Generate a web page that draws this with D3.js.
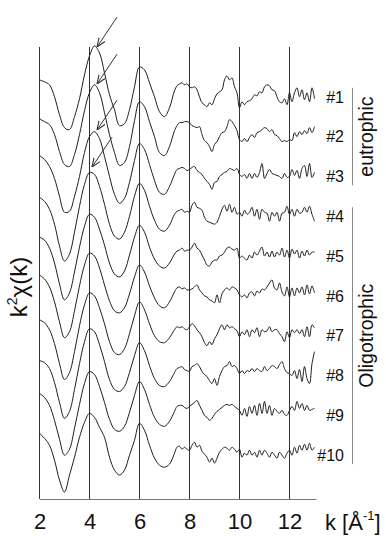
<!DOCTYPE html>
<meta charset="utf-8">
<style>
    body {
        margin: 0;
        background-color: #ffffff;
    }

    text {
        font-family: "Liberation Sans", Arial, sans-serif;
        fill: #111;
    }

    .spectra path {
        fill: none;
        stroke: #1e1e1e;
        stroke-width: 1px;
    }

    .grid line {
        stroke: #333;
        stroke-width: 1px;
    }

    .xaxis path {
        stroke: #777;
    }

    .xaxis text {
        font-size: 22px;
        fill: #111;
    }

    .samples text {
        font-size: 16px;
    }

    .groups line {
        stroke: #888;
        stroke-width: 1px;
    }

    .groups text {
        font-size: 19.5px;
    }

    .arrows line {
        stroke: #333;
        stroke-width: 1px;
    }
</style>
<svg width="386" height="536"></svg>

<script src="https://cdn.jsdelivr.net/npm/d3@7"></script>
<script>
    // sampling grid of the spectra: coarse below 7.5, fine above
    let kLow = d3.range(2, 7.45, 0.2);
    let kHigh = d3.range(7.5, 13.05, 0.1);
    let kGrid = kLow.concat(kHigh);

    // k^2 chi(k), each sample relative to its own baseline
    let s1 = [0.85, 0.75, 0.6, 0.0, -0.9, -1.55, -1.65, -1.0, -0.1, 1.1, 2.05, 2.55, 2.2, 1.2, 0.1, -0.65, -1.45, -1.35, -0.65, 0.5, 1.5, 1.35, 0.7, 0.0, -0.75, -1.0, -0.55, 0.3,
        0.55, 0.65, 0.7, 0.6, 0.65, 0.5, 0.45, 0.5, 0.35, 0.0, -0.3, -0.4, -0.5, -0.3, -0.4, -0.1, 0.15, 0.25, 0.35, 0.85,
        1.05, 0.85, 0.95, 0.5, 0.2, -0.55, -0.25, -0.4, -0.25, -0.2, -0.1, 0.1, 0.05, 0.25, 0.2, 0.5, 0.6, 0.55, 0.35, 0.3,
        0.0, -0.25, -0.3, -0.1, -0.4, 0.2, -0.25, 0.2, 0.45, 0.0, 0.35, -0.15, 0.2, -0.25, 0.45, -0.1];
    let s2 = [0.9, 0.75, 0.6, 0.1, -0.75, -1.4, -1.5, -0.9, 0.1, 1.3, 2.2, 2.6, 2.2, 1.2, 0.1, -0.8, -1.45, -1.3, -0.5, 0.8, 1.75, 1.5, 0.75, 0.0, -0.8, -0.95, -0.5, 0.3,
        0.55, 0.7, 0.7, 0.75, 0.75, 0.7, 0.55, 0.5, 0.45, 0.5, 0.1, -0.2, -0.3, -0.5, -0.75, -0.4, -0.25, 0.0, 0.2, 0.25,
        0.5, 0.85, 0.75, 0.55, 0.3, -0.15, -0.25, -0.1, -0.25, -0.05, 0.1, -0.05, 0.2, 0.25, 0.35, 0.45, 0.4, 0.25, 0.35, 0.1,
        0.05, -0.1, -0.25, -0.2, -0.25, -0.15, -0.2, 0.2, 0.0, 0.25, 0.1, 0.3, 0.15, 0.45, 0.2, 0.5];
    let s3 = [1.05, 0.85, 0.5, -0.1, -1.0, -1.8, -1.75, -1.0, 0.0, 1.2, 2.0, 2.25, 1.9, 1.0, 0.0, -0.9, -1.35, -1.1, -0.3, 0.8, 1.65, 1.35, 0.6, -0.2, -0.8, -0.9, -0.5, 0.1,
        0.35, 0.4, 0.45, 0.4, 0.3, 0.35, 0.45, 0.5, 0.3, 0.2, 0.1, -0.1, -0.25, -0.4, -0.65, -0.3, -0.25, 0.0, 0.1, 0.2,
        0.25, 0.4, 0.35, 0.3, 0.4, 0.1, 0.0, 0.1, -0.1, 0.15, -0.1, 0.15, -0.05, 0.2, 0.65, -0.1, 0.15, 0.35, 0.15, 0.1,
        0.05, 0.0, -0.1, 0.15, -0.05, 0.0, 0.35, 0.05, 0.3, -0.1, 0.4, 0.55, 0.0, 0.65, -0.05, 0.2];
    let s4 = [0.95, 0.75, 0.35, -0.4, -1.5, -2.25, -1.9, -0.8, 0.5, 1.6, 2.2, 2.1, 1.5, 0.6, -0.4, -1.0, -1.15, -0.8, 0.0, 1.0, 1.65, 1.3, 0.5, -0.2, -0.65, -0.75, -0.45, 0.1,
        0.25, 0.3, 0.35, 0.2, 0.25, 0.2, 0.55, 0.7, 0.45, 0.4, 0.3, -0.05, -0.25, -0.3, -0.35, -0.4, -0.3, 0.0, 0.35, 0.55,
        0.25, 0.6, 0.2, 0.45, 0.1, 0.2, 0.0, 0.3, 0.1, 0.2, 0.45, 0.0, 0.35, -0.15, 0.35, 0.2, 0.15, -0.25, 0.2, 0.0,
        0.2, -0.25, 0.15, 0.2, 0.5, 0.1, 0.35, 0.0, 0.35, 0.15, 0.2, 0.45, 0.2, 0.5, 0.1, -0.25];
    let s5 = [0.95, 0.8, 0.4, -0.35, -1.4, -2.2, -1.85, -0.8, 0.45, 1.5, 2.1, 1.95, 1.35, 0.55, -0.35, -0.9, -1.05, -0.75, 0.05, 0.95, 1.55, 1.2, 0.45, -0.15, -0.5, -0.6, -0.35, 0.1,
        0.25, 0.3, 0.4, 0.25, 0.3, 0.3, 0.45, 0.65, 0.4, 0.3, 0.05, -0.2, -0.45, -0.5, -0.3, -0.2, -0.2, 0.0, 0.05, 0.2,
        0.4, 0.45, 0.35, 0.3, 0.4, -0.1, 0.0, -0.1, -0.2, 0.05, -0.1, 0.2, 0.05, 0.25, 0.45, 0.0, 0.2, -0.05, 0.25, -0.05,
        0.2, 0.05, 0.4, -0.05, 0.3, -0.1, 0.35, 0.1, 0.3, -0.1, 0.25, 0.0, 0.3, 0.05, 0.2, 0.2];
    let s6 = [1.05, 0.85, 0.45, -0.3, -1.3, -2.1, -1.8, -0.75, 0.5, 1.55, 2.15, 2.0, 1.4, 0.55, -0.25, -0.75, -0.85, -0.6, 0.1, 0.95, 1.55, 1.2, 0.5, -0.1, -0.5, -0.6, -0.3, 0.2,
        0.4, 0.45, 0.35, 0.4, 0.3, 0.3, 0.35, 0.45, 0.55, 0.3, 0.15, 0.0, -0.05, -0.2, -0.25, -0.35, 0.05, -0.35, 0.1, 0.3,
        0.4, 0.3, 0.45, 0.4, 0.3, 0.05, -0.05, 0.05, -0.1, 0.15, 0.2, 0.0, 0.25, 0.15, 0.35, 0.3, 0.45, 0.65, 0.8, 0.4,
        0.3, 0.65, 0.2, 0.0, 0.45, -0.05, 0.4, 0.0, 0.4, 0.15, 0.45, 0.05, 0.55, 0.1, 0.5, 0.15];
    let s7 = [0.8, 0.65, 0.3, -0.4, -1.4, -2.2, -1.85, -0.8, 0.5, 1.55, 2.15, 2.0, 1.4, 0.6, -0.3, -0.85, -0.95, -0.65, 0.1, 1.0, 1.7, 1.3, 0.6, 0.0, -0.3, -0.35, -0.1, 0.3,
        0.45, 0.4, 0.45, 0.35, 0.3, 0.45, 0.6, 0.5, 0.3, 0.15, -0.05, -0.35, -0.5, -0.3, -0.45, -0.15, 0.05, 0.35, 0.55, 0.3,
        0.55, 0.4, 0.45, 0.35, 0.25, -0.05, 0.2, 0.05, 0.3, -0.05, 0.3, 0.15, 0.4, -0.05, 0.3, 0.2, 0.25, 0.45, 0.2, 0.3,
        0.3, 0.1, -0.05, -0.3, 0.2, -0.1, 0.3, 0.15, 0.3, 0.1, 0.3, -0.05, 0.45, -0.05, 0.55, 0.4];
    let s8 = [0.75, 0.65, 0.35, -0.35, -1.35, -2.15, -1.8, -0.7, 0.6, 1.7, 2.35, 2.2, 1.55, 0.7, -0.2, -0.7, -0.8, -0.55, 0.15, 1.0, 1.65, 1.25, 0.5, -0.15, -0.5, -0.55, -0.3, 0.15,
        0.35, 0.4, 0.45, 0.3, 0.25, 0.2, 0.45, 0.5, 0.6, 0.45, 0.2, 0.05, -0.05, -0.25, -0.4, -0.15, -0.5, -0.05, 0.25, 0.45,
        0.5, 0.7, 0.45, 0.5, 0.35, 0.1, 0.25, 0.1, 0.25, 0.2, 0.35, 0.2, 0.35, 0.25, 0.2, 0.45, 0.25, 0.35, 0.5, 0.45,
        0.35, 0.55, 0.7, 0.35, 0.15, 0.1, 0.0, 0.25, -0.15, 0.3, -0.3, 0.45, -0.15, -0.4, 0.6, 1.2];
    let s9 = [1.1, 0.9, 0.5, -0.25, -1.2, -2.0, -1.7, -0.65, 0.55, 1.6, 2.2, 2.05, 1.45, 0.65, -0.2, -0.7, -0.8, -0.55, 0.15, 1.0, 1.7, 1.3, 0.55, -0.1, -0.45, -0.55, -0.3, 0.2,
        0.45, 0.5, 0.5, 0.4, 0.35, 0.45, 0.55, 0.65, 0.75, 0.5, 0.25, 0.0, -0.1, -0.25, -0.15, 0.05, 0.2, 0.3, 0.4, 0.5,
        0.55, 0.5, 0.55, 0.45, 0.35, 0.25, 0.0, 0.35, -0.05, 0.45, 0.1, 0.5, 0.0, 0.6, 0.1, 0.7, 0.1, 0.5, 0.0, 0.35,
        0.2, 0.1, 0.25, 0.05, 0.0, 0.25, 0.45, 0.25, 0.7, 0.35, 0.6, 0.25, 0.5, 0.25, 0.3, 0.35];
    let s10 = [1.1, 0.85, 0.5, -0.25, -1.25, -1.85, -1.0, -0.1, 0.9, 1.65, 2.1, 1.9, 1.4, 0.9, -0.1, -0.75, -1.0, -0.75, 0.0, 0.75, 1.6, 1.25, 0.5, -0.15, -0.5, -0.6, -0.45, 0.1,
        0.4, 0.45, 0.3, 0.4, 0.3, 0.25, 0.5, 0.65, 0.4, 0.5, 0.2, 0.05, -0.1, -0.35, -0.15, -0.4, -0.15, 0.15, 0.3, 0.4,
        0.35, 0.25, 0.4, 0.3, 0.15, 0.3, -0.1, 0.1, 0.0, 0.25, 0.0, 0.15, -0.1, 0.25, 0.0, 0.25, 0.1, -0.1, 0.15, 0.0,
        -0.15, 0.15, 0.0, -0.15, 0.1, 0.25, 0.0, 0.4, 0.1, 0.5, 0.25, 0.55, 0.25, 0.6, 0.25, 0.4];

    let spectra = [s1, s2, s3, s4, s5, s6, s7, s8, s9, s10];
    let sampleNames = ["#1", "#2", "#3", "#4", "#5", "#6", "#7", "#8", "#9", "#10"];
    let groupNames = ["eutrophic", "Oligotrophic"];
    let groupFirst = [0, 3];
    let groupLast = [2, 9];
    let gridK = [2, 4, 6, 8, 10, 12];

    // arrows mark the first peak of samples #1-#4
    let arrowSample = [0, 1, 2, 3];
    let arrowK = [4.3, 4.3, 4.3, 4.1];
    let arrowV = [2.5, 2.64, 2.33, 2.47];

    let svg = d3.select("svg");

    let x = d3.scaleLinear().domain([2, 13.06]).range([39.5, 316]);
    let y = d3.scaleLinear().domain([-2.2, 20.5]).range([499, 47]);

    // vertical shift of each trace, #1 at the top
    let shift = (i) => 2 * (spectra.length - 1 - i);

    svg.append("defs").append("marker")
        .attr("id", "head")
        .attr("viewBox", "0 0 10 10")
        .attr("refX", 10)
        .attr("refY", 5)
        .attr("markerUnits", "userSpaceOnUse")
        .attr("markerWidth", 9)
        .attr("markerHeight", 9)
        .attr("orient", "auto")
        .append("path")
        .attr("d", "M0,1 L10,5 L0,9")
        .attr("fill", "none")
        .attr("stroke", "#333")
        .attr("stroke-width", 1.2);

    svg.append("g")
        .attr("class", "grid")
        .selectAll("line")
        .data(gridK)
        .enter().append("line")
        .attr("x1", (d) => x(d))
        .attr("x2", (d) => x(d))
        .attr("y1", y(20.5))
        .attr("y2", y(-2.2));

    let xAxis = svg.append("g")
        .attr("class", "xaxis")
        .attr("transform", "translate(0," + y(-2.2) + ")")
        .call(d3.axisBottom(x)
            .tickValues(gridK)
            .tickSize(0)
            .tickSizeOuter(0)
            .tickPadding(14)
            .tickFormat(d3.format("d")));
    xAxis.attr("font-family", null).attr("font-size", null);

    let line = d3.line()
        .x((d) => x(d[0]))
        .y((d) => y(d[1]))
        .curve(d3.curveCatmullRom.alpha(0.5));

    svg.append("g")
        .attr("class", "spectra")
        .selectAll("path")
        .data(spectra)
        .enter().append("path")
        .attr("d", (s, i) => line(s.map((v, j) => [kGrid[j], v + shift(i)])));

    svg.append("g")
        .attr("class", "samples")
        .selectAll("text")
        .data(sampleNames)
        .enter().append("text")
        .attr("x", 344)
        .attr("y", (d, i) => y(shift(i)))
        .attr("dy", "0.36em")
        .attr("text-anchor", "end")
        .text((d) => d);

    let groups = svg.append("g").attr("class", "groups");
    groupNames.forEach((name, g) => {
        let top = y(shift(groupFirst[g]) + 0.45);
        let bottom = y(shift(groupLast[g]) - 0.45);
        groups.append("line")
            .attr("x1", 352.5).attr("x2", 352.5)
            .attr("y1", top).attr("y2", bottom);
        groups.append("text")
            .attr("transform", "translate(373," + ((top + bottom) / 2) + ") rotate(-90)")
            .attr("text-anchor", "middle")
            .text(name);
    });

    svg.append("g")
        .attr("class", "arrows")
        .selectAll("line")
        .data(arrowSample)
        .enter().append("line")
        .attr("x1", (d, i) => x(arrowK[i] + 0.8))
        .attr("y1", (d, i) => y(shift(d) + arrowV[i] + 1.5))
        .attr("x2", (d, i) => x(arrowK[i]))
        .attr("y2", (d, i) => y(shift(d) + arrowV[i]))
        .attr("marker-end", "url(#head)");

    // axis titles
    let xTitle = svg.append("text")
        .attr("x", 325)
        .attr("y", 530)
        .style("font-size", "22px");
    xTitle.append("tspan").text("k [Å");
    xTitle.append("tspan").attr("dy", -10).style("font-size", "13px").text("-1");
    xTitle.append("tspan").attr("dy", 10).text("]");

    let yTitle = svg.append("text")
        .attr("transform", "translate(27,287) rotate(-90)")
        .attr("text-anchor", "middle")
        .style("font-size", "24px");
    yTitle.append("tspan").text("k");
    yTitle.append("tspan").attr("dy", -10).style("font-size", "14px").text("2");
    yTitle.append("tspan").attr("dy", 10).text("χ(k)");
</script>
</html>
